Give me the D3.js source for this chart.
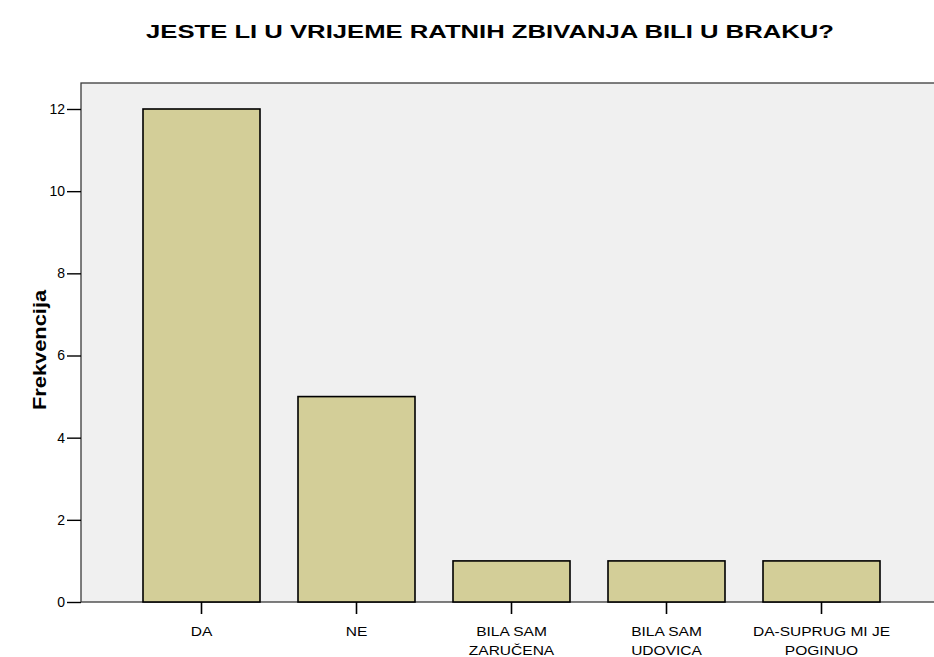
<!DOCTYPE html>
<html>
<head>
<meta charset="utf-8">
<script src="https://cdn.jsdelivr.net/npm/d3@7"></script>
<style>
  html, body { margin: 0; padding: 0; background: #ffffff; }
  svg { display: block; font-family: "Liberation Sans", Arial, sans-serif; }
</style>
</head>
<body>
<svg id="chart" width="934" height="657"></svg>
<script>
// Answer categories (two-line labels split by "\n")
const categories = ["DA", "NE", "BILA SAM\nZARUČENA", "BILA SAM\nUDOVICA", "DA-SUPRUG MI JE\nPOGINUO"];
// Frequency of each answer
const frequencies = [12, 5, 1, 1, 1];
// Y axis ticks
const yTicks = [0, 2, 4, 6, 8, 10, 12];

const titleText = "JESTE LI U VRIJEME RATNIH ZBIVANJA BILI U BRAKU?";
const yTitle = "Frekvencija";

const svg = d3.select("#chart");

const frame = { left: 81, top: 83, right: 960, bottom: 602 };

const x = d3.scaleBand()
  .domain(categories)
  .range([124, 899])
  .paddingInner(38 / 155)
  .paddingOuter(38 / 310);

const y = d3.scaleLinear()
  .domain([0, 12])
  .range([602, 109]);

// Slightly widen a text element horizontally (the chart font runs wide)
function widen(sel, factor) {
  sel.each(function() {
    const w = this.getComputedTextLength();
    d3.select(this)
      .attr("textLength", w * factor)
      .attr("lengthAdjust", "spacingAndGlyphs");
  });
}

// Title
svg.append("text")
  .attr("x", 490)
  .attr("y", 38)
  .attr("text-anchor", "middle")
  .attr("font-size", 19)
  .attr("font-weight", "bold")
  .attr("fill", "#000")
  .text(titleText)
  .call(widen, 1.35);

// Plot area background
svg.append("rect")
  .attr("x", frame.left)
  .attr("y", frame.top)
  .attr("width", frame.right - frame.left)
  .attr("height", frame.bottom - frame.top)
  .attr("fill", "#f0f0f0")
  .attr("stroke", "#3a3a3a")
  .attr("stroke-width", 1.3);

// Bars
svg.append("g")
  .selectAll("rect")
  .data(categories)
  .join("rect")
  .attr("x", d => x(d))
  .attr("y", (d, i) => y(frequencies[i]))
  .attr("width", x.bandwidth())
  .attr("height", (d, i) => y(0) - y(frequencies[i]))
  .attr("fill", "#d3ce98")
  .attr("stroke", "#000")
  .attr("stroke-width", 1.6);

// Y axis
const yAxis = d3.axisLeft(y)
  .tickValues(yTicks)
  .tickFormat(d3.format("d"))
  .tickSize(14)
  .tickPadding(2);

const yg = svg.append("g")
  .attr("transform", `translate(${frame.left},0)`)
  .call(yAxis);
yg.select(".domain").remove();
yg.selectAll(".tick line").attr("stroke", "#000").attr("stroke-width", 1.4);
yg.selectAll(".tick text")
  .attr("font-family", "'Liberation Sans', Arial, sans-serif")
  .attr("font-size", 14)
  .attr("fill", "#000");

// X axis
const xAxis = d3.axisBottom(x)
  .tickSize(12)
  .tickFormat("");

const xg = svg.append("g")
  .attr("transform", `translate(0,${frame.bottom})`)
  .call(xAxis);
xg.select(".domain").remove();
xg.selectAll(".tick line").attr("stroke", "#000").attr("stroke-width", 1.6);
xg.selectAll(".tick").each(function(d) {
  const lines = d.split("\n");
  const g = d3.select(this);
  lines.forEach((ln, i) => {
    g.append("text")
      .attr("x", 0)
      .attr("y", 34 + i * 19)
      .attr("text-anchor", "middle")
      .attr("font-family", "'Liberation Sans', Arial, sans-serif")
      .attr("font-size", 13.5)
      .attr("fill", "#000")
      .text(ln)
      .call(widen, 1.15);
  });
});

// Y axis title
svg.append("text")
  .attr("transform", "translate(46,350) rotate(-90)")
  .attr("text-anchor", "middle")
  .attr("font-size", 19)
  .attr("font-weight", "bold")
  .attr("fill", "#000")
  .text(yTitle)
  .call(widen, 1.15);
</script>
</body>
</html>
